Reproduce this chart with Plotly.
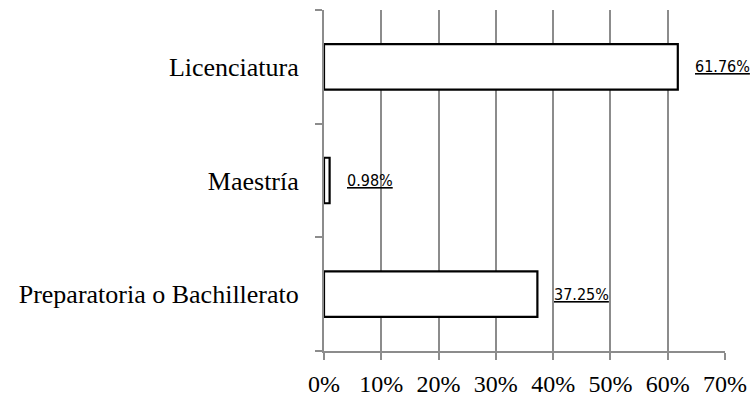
import plotly.graph_objects as go

categories = ["Preparatoria o Bachillerato", "Maestría", "Licenciatura"]
values = [37.25, 0.98, 61.76]
x_ticks = [0, 10, 20, 30, 40, 50, 60, 70]

GRID = "#8c8c8c"

fig = go.Figure()
fig.add_trace(go.Bar(
    y=categories,
    x=values,
    orientation="h",
    marker=dict(color="white", line=dict(color="black", width=2.2)),
    width=0.4,
    hoverinfo="skip",
))

# value labels beside each bar, underlined
for cat, v in zip(categories, values):
    fig.add_annotation(
        x=v, y=cat, xref="x", yref="y",
        text=f"<u>{v:.2f}%</u>",
        showarrow=False, xanchor="left", yanchor="middle",
        xshift=15,
        font=dict(family="DejaVu Sans Condensed, Liberation Sans Narrow, sans-serif",
                  size=16, color="black"),
    )

fig.update_layout(
    width=750, height=397,
    margin=dict(l=324, r=25, t=10, b=46),
    plot_bgcolor="white", paper_bgcolor="white",
    showlegend=False,
    font=dict(family="Liberation Serif, Times New Roman, serif", size=24, color="black"),
)
fig.update_xaxes(
    range=[0, 70], tickvals=x_ticks, ticktext=[f"{t}%" for t in x_ticks],
    showgrid=True, gridcolor=GRID, gridwidth=1.8,
    showline=True, linecolor=GRID, linewidth=2,
    ticks="outside", ticklen=7, tickcolor=GRID, tickwidth=1.8,
    zeroline=False, automargin=False,
    ticklabelstandoff=3,
    tickfont=dict(size=24),
)
fig.update_yaxes(
    categoryorder="array", categoryarray=categories,
    showline=True, linecolor=GRID, linewidth=2,
    ticks="outside", ticklen=7, tickcolor=GRID, tickwidth=1.8,
    tickson="boundaries", showgrid=False, automargin=False,
    ticklabelstandoff=18,
    tickfont=dict(size=26),
)

fig.write_html("out.html")
